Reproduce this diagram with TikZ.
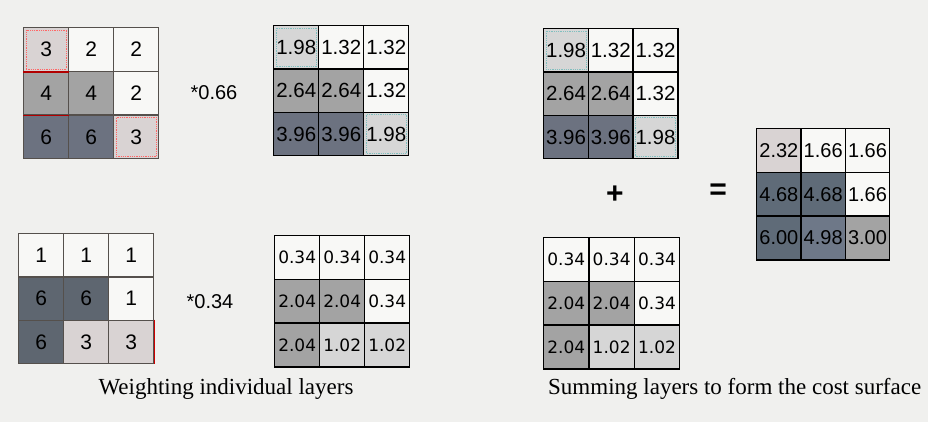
\documentclass[tikz,border=0pt]{standalone}
\usepackage{fontspec}
\setmainfont{Liberation Serif}
\newfontfamily\arialf{Liberation Sans}
\newfontfamily\pixf{DejaVu Sans}
\definecolor{bgc}{HTML}{F0F0EE}
\definecolor{cw}{HTML}{F8F8F6}
\definecolor{cpink}{HTML}{D9D3D3}
\definecolor{cmid}{HTML}{A3A3A3}
\definecolor{cslate}{HTML}{6C7280}
\definecolor{cdark}{HTML}{5E6670}
\definecolor{rdark}{HTML}{5F6B78}
\definecolor{rdark2}{HTML}{6E7888}
\definecolor{clight}{HTML}{D6D6D6}
\definecolor{gline}{HTML}{55504C}
\tikzset{
  cell/.style={draw=black, line width=1.4pt, inner sep=0pt, anchor=north west},
  fa/.style={font=\arialf\fontsize{21}{21}\selectfont},
  fg/.style={font=\arialf\fontsize{20.5}{21}\selectfont},
  fb/.style={font=\arialf\fontsize{20}{20}\selectfont},
  fp/.style={font=\pixf\fontsize{17}{17}\selectfont},
  caption/.style={font=\fontsize{23}{25}\selectfont, inner sep=0pt},
  factor/.style={font=\arialf\fontsize{20}{20}\selectfont, inner sep=0pt},
  opsign/.style={font=\arialf\bfseries\fontsize{30}{30}\selectfont, inner sep=0pt},
}
% #1 name, #2 x0, #3 y0, #4 w, #5 h, #6 style, #7 list col/row/fill/text
\newcommand\drawgrid[7]{%
  \foreach \c/\r/\f/\t in {#7} {
    \node[cell, #6, fill=\f, minimum width=#4pt, minimum height=#5pt]
      (#1-\r\c) at ({#2+\c*#4}, {#3+\r*#5}) {\t};
  }%
}
\begin{document}
\begin{tikzpicture}[x=1pt, y=-1pt]
\fill[bgc] (0,0) rectangle (928,422);
\useasboundingbox (0,0) rectangle (928,422);

% top-left input layer
\drawgrid{ga}{23}{27}{45}{43.7}{fa, draw=gline}{0/0/cpink/3, 1/0/cw/2, 2/0/cw/2, 0/1/cmid/4, 1/1/cmid/4, 2/1/cw/2, 0/2/cslate/6, 1/2/cslate/6, 2/2/cpink/3}
\draw[red!70!black, line width=1.4pt] (ga-10.south west) -- (ga-10.south east);
\draw[red!70!black, line width=1.4pt] (ga-00.south west) -- (ga-00.south east);
\draw[red!60, densely dotted, line width=0.8pt] ([shift={(3pt,3pt)}]ga-00.south west) rectangle ([shift={(-3pt,-3pt)}]ga-00.north east);
\draw[red!60, densely dotted, line width=0.8pt] ([shift={(3pt,3pt)}]ga-22.south west) rectangle ([shift={(-3pt,-3pt)}]ga-22.north east);
\node[factor] (fa) at (214,93) {*0.66};

% top-middle weighted layer
\drawgrid{gb}{273}{25}{45}{43.3}{fg}{0/0/clight/1.98, 1/0/cw/1.32, 2/0/cw/1.32, 0/1/cmid/2.64, 1/1/cmid/2.64, 2/1/cw/1.32, 0/2/cslate/3.96, 1/2/cslate/3.96, 2/2/clight/1.98}
\draw[teal!50, densely dotted, line width=0.8pt] ([shift={(3pt,3pt)}]gb-00.south west) rectangle ([shift={(-3pt,-3pt)}]gb-00.north east);
\draw[teal!50, densely dotted, line width=0.8pt] ([shift={(3pt,3pt)}]gb-22.south west) rectangle ([shift={(-3pt,-3pt)}]gb-22.north east);

% top-right (copy for summing)
\drawgrid{gc}{543}{28}{44.7}{43.3}{fg}{0/0/clight/1.98, 1/0/cw/1.32, 2/0/cw/1.32, 0/1/cmid/2.64, 1/1/cmid/2.64, 2/1/cw/1.32, 0/2/cslate/3.96, 1/2/cslate/3.96, 2/2/clight/1.98}
\draw[teal!50, densely dotted, line width=0.8pt] ([shift={(3pt,3pt)}]gc-00.south west) rectangle ([shift={(-3pt,-3pt)}]gc-00.north east);
\draw[teal!50, densely dotted, line width=0.8pt] ([shift={(3pt,3pt)}]gc-22.south west) rectangle ([shift={(-3pt,-3pt)}]gc-22.north east);

% result
\drawgrid{gr}{756}{128}{44.3}{43.7}{fb}{0/0/cpink/2.32, 1/0/cw/1.66, 2/0/cw/1.66, 0/1/rdark/4.68, 1/1/rdark/4.68, 2/1/cw/1.66, 0/2/rdark/6.00, 1/2/rdark2/4.98, 2/2/cmid/3.00}

% bottom-left input layer
\drawgrid{gd}{18}{233}{45}{43.3}{fa, draw=gline}{0/0/cw/1, 1/0/cw/1, 2/0/cw/1, 0/1/cdark/6, 1/1/cdark/6, 2/1/cw/1, 0/2/cdark/6, 1/2/cpink/3, 2/2/cpink/3}
\draw[red!80!black, line width=1.4pt] (gd-22.north east) -- (gd-22.south east);
\node[factor] (fb) at (210,302) {*0.34};

% bottom-middle weighted layer
\drawgrid{ge}{274}{235}{45}{43.7}{fp}{0/0/cw/0.34, 1/0/cw/0.34, 2/0/cw/0.34, 0/1/cmid/2.04, 1/1/cmid/2.04, 2/1/cw/0.34, 0/2/cmid/2.04, 1/2/clight/1.02, 2/2/clight/1.02}

% bottom-right (copy for summing)
\drawgrid{gf}{543}{237}{45.3}{43.7}{fp}{0/0/cw/0.34, 1/0/cw/0.34, 2/0/cw/0.34, 0/1/cmid/2.04, 1/1/cmid/2.04, 2/1/cw/0.34, 0/2/cmid/2.04, 1/2/clight/1.02, 2/2/clight/1.02}

% operators
\node[opsign] (plus) at (615,195) {+};
\node[opsign] (eq) at (718,192) {=};

% captions
\node[caption] (capa) at (226,389) {Weighting individual layers};
\node[caption, anchor=west] (capb) at (548,389) {Summing layers to form the cost surface};
\end{tikzpicture}
\end{document}
